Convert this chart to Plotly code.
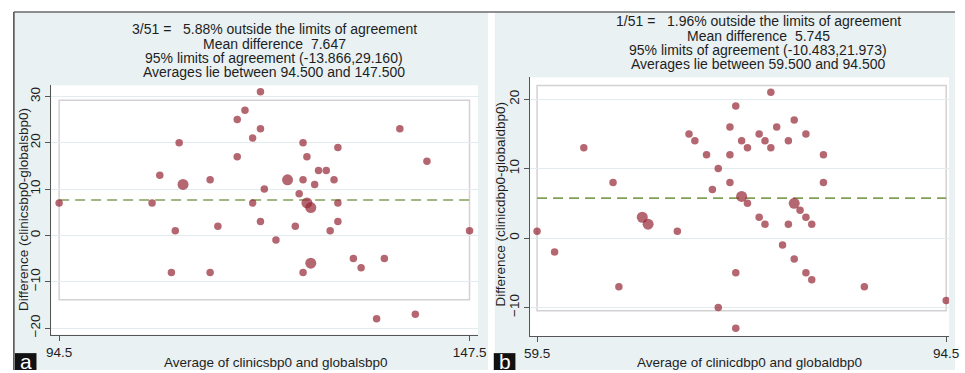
import plotly.graph_objects as go

# ---------------- data ----------------
# Panel a: systolic BP (clinicsbp0 vs globalsbp0)
a_avg = [94.5, 120.5, 118.5, 117.5, 120.5, 119.5, 110, 117.5, 126, 126.5, 130.5, 138.5, 142,
         107.5, 110.5, 114, 121, 124, 126, 128, 129, 127.5, 130, 125.5, 106.5, 119.5, 126.5,
         127, 130.5, 120.5, 130.5, 115, 125, 109.5, 129.5, 147.5, 122.5, 132.5, 133.5, 136.5,
         127, 109, 114, 126, 135.5, 140.5]
a_diff = [7, 31, 27, 25, 23, 21, 20, 17, 20, 17, 19, 23, 16,
          13, 11, 12, 10, 12, 12, 14, 14, 11, 12, 9, 7, 7, 7,
          6, 7, 3, 3, 2, 2, 1, 1, 1, -1, -5, -7, -5,
          -6, -8, -8, -8, -18, -17]
a_n = [1, 1, 1, 1, 1, 1, 1, 1, 1, 1, 1, 1, 1,
       1, 2, 1, 1, 2, 1, 1, 1, 1, 1, 1, 1, 1, 2,
       2, 1, 1, 1, 1, 1, 1, 1, 1, 1, 1, 1, 1,
       2, 1, 1, 1, 1, 1]
a_mean = 7.647
a_loa = (-13.866, 29.160)
a_xlim = (94.5, 147.5)
a_title = ["3/51 =\u00a0\u00a0 5.88% outside the limits of agreement",
           "Mean difference\u00a0 7.647",
           "95% limits of agreement (-13.866,29.160)",
           "Averages lie between 94.500 and 147.500"]
a_xlabel = "Average of clinicsbp0 and globalsbp0"
a_ylabel = "Difference (clinicsbp0-globalsbp0)"
a_yticks = [-20, -10, 0, 10, 20, 30]

# Panel b: diastolic BP (clinicdbp0 vs globaldbp0)
b_avg = [79.5, 76.5, 81.5, 76, 80, 72.5, 78.5, 82.5, 73, 77, 79, 81, 63.5, 77.5, 79.5,
         74, 76, 84, 75, 66, 76, 84, 74.5, 77, 77.5, 81.5, 82, 82.5, 78.5, 68.5, 69,
         79, 81, 83, 59.5, 71.5, 61, 80.5, 81.5, 76.5, 82.5, 83, 66.5, 87.5, 94.5, 75, 76.5]
b_diff = [21, 19, 17, 16, 16, 15, 15, 15, 14, 14, 14, 14, 13, 13, 13,
          12, 12, 12, 10, 8, 8, 8, 7, 6, 5, 5, 4, 3, 3, 3, 2,
          2, 2, 2, 1, 1, -2, -1, -3, -5, -5, -6, -7, -7, -9, -10, -13]
b_n = [1, 1, 1, 1, 1, 1, 1, 1, 1, 1, 1, 1, 1, 1, 1,
       1, 1, 1, 1, 1, 1, 1, 1, 2, 1, 2, 1, 1, 1, 2, 2,
       1, 1, 1, 1, 1, 1, 1, 1, 1, 1, 1, 1, 1, 1, 1, 1]
b_mean = 5.745
b_loa = (-10.483, 21.973)
b_xlim = (59.5, 94.5)
b_title = ["1/51 =\u00a0\u00a0 1.96% outside the limits of agreement",
           "Mean difference\u00a0 5.745",
           "95% limits of agreement (-10.483,21.973)",
           "Averages lie between 59.500 and 94.500"]
b_xlabel = "Average of clinicdbp0 and globaldbp0"
b_ylabel = "Difference (clinicdbp0-globaldbp0)"
b_yticks = [-10, 0, 10, 20]

panel_labels = ["a", "b"]

# ---------------- style ----------------
W, H = 965, 373
FONT = "Liberation Sans, Arial, sans-serif"
BG = "#e9f1f3"
DOT = "#962634"
MEAN_COL = "#82a055"
LOA_COL = "#d2d2d2"
GRID = "#e2ebee"
AXC = "#555555"
TXT = "#1e1e1e"


def px(x):
    return x / W


def py(y):
    return 1 - y / H


def sizes(ns):
    return [7.5 if n == 1 else 11 for n in ns]


fig = go.Figure()

panels = [
    dict(avg=a_avg, diff=a_diff, n=a_n, mean=a_mean, loa=a_loa, xlim=a_xlim, title=a_title,
         xlabel=a_xlabel, ylabel=a_ylabel, yticks=a_yticks, xa="x", ya="y",
         xdom=(46, 480), ydom=(86, 337.3), xr=(93.48, 148.6), yr=(-21.41, 32.4),
         title_x=273, title_y=[29.5, 44, 58.5, 72.5], xlab_x=274, ylab_x=18, ylab_y=211,
         bg=(8, 490), lab=(9, 31)),
    dict(avg=b_avg, diff=b_diff, n=b_n, mean=b_mean, loa=b_loa, xlim=b_xlim, title=b_title,
         xlabel=b_xlabel, ylabel=b_ylabel, yticks=b_yticks, xa="x2", ya="y2",
         xdom=(533, 959), ydom=(78, 339), xr=(58.91, 94.75), yr=(-14.14, 23.14),
         title_x=765, title_y=[21, 35.8, 50.8, 65], xlab_x=756, ylab_x=502.5, ylab_y=206,
         bg=(497, 965), lab=(496, 518)),
]

shapes = []
annotations = []
layout_axes = {}

for i, p in enumerate(panels):
    # panel background
    shapes.append(dict(type="rect", xref="paper", yref="paper", x0=px(p["bg"][0]), x1=px(p["bg"][1]),
                       y0=0, y1=py(12), fillcolor=BG, line=dict(width=0), layer="below"))
    # white plot region
    shapes.append(dict(type="rect", xref="paper", yref="paper", x0=px(p["xdom"][0]), x1=px(p["xdom"][1]),
                       y0=py(p["ydom"][1]), y1=py(p["ydom"][0]), fillcolor="white",
                       line=dict(width=0), layer="below"))
    # limits of agreement box
    shapes.append(dict(type="rect", xref=p["xa"], yref=p["ya"], x0=p["xlim"][0], x1=p["xlim"][1],
                       y0=p["loa"][0], y1=p["loa"][1], line=dict(color=LOA_COL, width=1.5),
                       fillcolor="rgba(0,0,0,0)", layer="below"))

    # mean difference line
    fig.add_trace(go.Scatter(x=list(p["xlim"]), y=[p["mean"], p["mean"]], mode="lines",
                             line=dict(color=MEAN_COL, width=1.6, dash="10px,6px"),
                             xaxis=p["xa"], yaxis=p["ya"], hoverinfo="skip", showlegend=False))
    # points
    fig.add_trace(go.Scatter(x=p["avg"], y=p["diff"], mode="markers",
                             marker=dict(color=DOT, size=sizes(p["n"]), line=dict(width=0)),
                             xaxis=p["xa"], yaxis=p["ya"], showlegend=False))

    xkey = "xaxis" if i == 0 else "xaxis2"
    ykey = "yaxis" if i == 0 else "yaxis2"
    layout_axes[xkey] = dict(domain=[px(p["xdom"][0]), px(p["xdom"][1])], range=list(p["xr"]),
                             anchor=p["ya"], showgrid=False, zeroline=False,
                             showline=True, linecolor=AXC, linewidth=1,
                             ticks="outside", ticklen=5, tickcolor=AXC, tickwidth=1,
                             tickvals=list(p["xlim"]), ticktext=[f"{v:.1f}" for v in p["xlim"]],
                             tickfont=dict(family=FONT, size=13.5, color=TXT))
    layout_axes[ykey] = dict(domain=[py(p["ydom"][1]), py(p["ydom"][0])], range=list(p["yr"]),
                             anchor=p["xa"], showgrid=True, gridcolor=GRID, gridwidth=1,
                             zeroline=False, showline=True, linecolor=AXC, linewidth=1,
                             ticks="outside", ticklen=5, tickcolor=AXC, tickwidth=1,
                             tickvals=p["yticks"], tickangle=-90,
                             tickfont=dict(family=FONT, size=13.5, color=TXT))

    # title lines
    for line, yy in zip(p["title"], p["title_y"]):
        annotations.append(dict(text=line, xref="paper", yref="paper", x=px(p["title_x"]), y=py(yy),
                                xanchor="center", yanchor="middle", showarrow=False,
                                font=dict(family=FONT, size=14, color=TXT)))
    # axis titles
    annotations.append(dict(text=p["xlabel"], xref="paper", yref="paper", x=px(p["xlab_x"]), y=py(365.5),
                            xanchor="center", yanchor="middle", showarrow=False,
                            font=dict(family=FONT, size=13.5, color=TXT)))
    annotations.append(dict(text=p["ylabel"], xref="paper", yref="paper", x=px(p["ylab_x"]),
                            y=py(p["ylab_y"]), xanchor="center", yanchor="middle", textangle=-90,
                            showarrow=False, font=dict(family=FONT, size=13.5, color=TXT)))
    # panel label box
    shapes.append(dict(type="rect", xref="paper", yref="paper", x0=px(p["lab"][0]), x1=px(p["lab"][1]),
                       y0=0, y1=py(356), fillcolor="#111111", line=dict(width=0), layer="above"))
    annotations.append(dict(text=panel_labels[i], xref="paper", yref="paper",
                            x=px((p["lab"][0] + p["lab"][1]) / 2), y=py(364.5),
                            xanchor="center", yanchor="middle", showarrow=False,
                            font=dict(family=FONT, size=21, color="white")))

# outer frame lines (top and left)
shapes.append(dict(type="line", xref="paper", yref="paper", x0=px(8), x1=1, y0=py(12), y1=py(12),
                   line=dict(color="#6a6a6a", width=1.5), layer="above"))
shapes.append(dict(type="line", xref="paper", yref="paper", x0=px(8), x1=px(8), y0=0, y1=py(12),
                   line=dict(color="#4a4a4a", width=1.5), layer="above"))

fig.update_layout(width=W, height=H, margin=dict(l=0, r=0, t=0, b=0),
                  paper_bgcolor="white", plot_bgcolor="rgba(0,0,0,0)",
                  shapes=shapes, annotations=annotations, showlegend=False,
                  font=dict(family=FONT), **layout_axes)

fig.write_html("out.html", config={"responsive": False, "displayModeBar": False},
               post_script="document.body.style.margin='0';document.body.style.overflow='hidden';")
